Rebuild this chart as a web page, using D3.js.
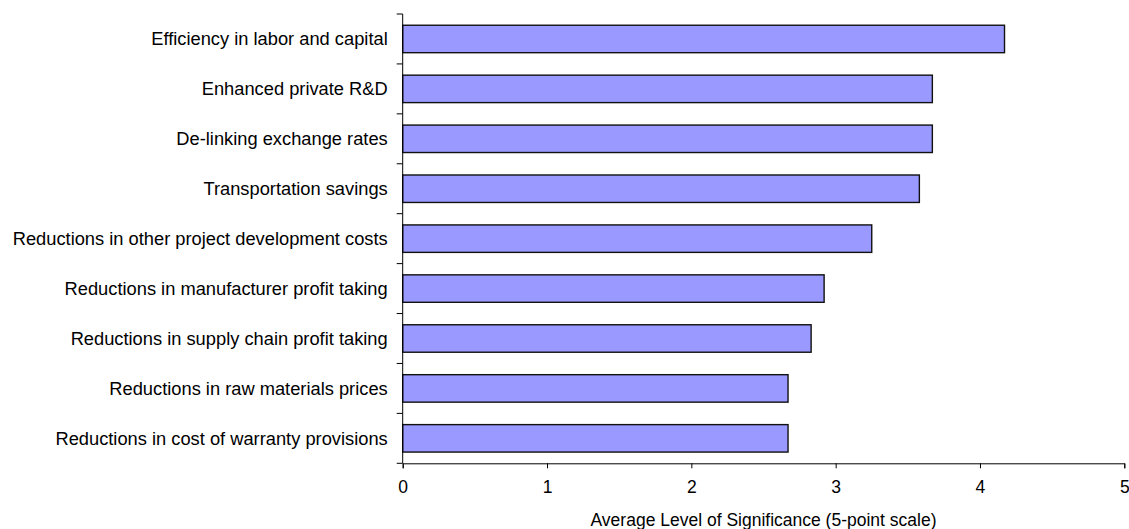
<!DOCTYPE html>
<html>
<head>
<meta charset="utf-8">
<script src="https://cdn.jsdelivr.net/npm/d3@7"></script>
<style>
  html, body { margin: 0; padding: 0; background: #fff; }
  svg { display: block; font-family: "Liberation Sans", Arial, sans-serif; }
</style>
</head>
<body>
<svg id="chart" width="1129" height="529"></svg>
<script>
// Factors ranked by average level of significance (top to bottom)
const categories = [
  "Efficiency in labor and capital",
  "Enhanced private R&D",
  "De-linking exchange rates",
  "Transportation savings",
  "Reductions in other project development costs",
  "Reductions in manufacturer profit taking",
  "Reductions in supply chain profit taking",
  "Reductions in raw materials prices",
  "Reductions in cost of warranty provisions"
];
const values = [4.17, 3.67, 3.67, 3.58, 3.25, 2.92, 2.83, 2.67, 2.67];
const xTicks = [0, 1, 2, 3, 4, 5];
const xTitle = "Average Level of Significance (5-point scale)";

const data = categories.map((c, i) => ({ category: c, value: values[i] }));

const svg = d3.select("#chart");
const margin = { top: 14, left: 402.7, right: 4.7, bottom: 65.7 };
const width = 1129 - margin.left - margin.right;
const height = 529 - margin.top - margin.bottom;

const g = svg.append("g").attr("transform", `translate(${margin.left},${margin.top})`);

const x = d3.scaleLinear().domain([0, 5]).range([0, width]);
const y = d3.scaleBand().domain(categories).range([0, height]).paddingInner(0.45).paddingOuter(0.225);

// Bars
g.selectAll("rect.bar")
  .data(data)
  .join("rect")
  .attr("class", "bar")
  .attr("x", x(0))
  .attr("y", d => y(d.category))
  .attr("width", d => x(d.value) - x(0))
  .attr("height", y.bandwidth())
  .attr("fill", "#9999ff")
  .attr("stroke", "#111")
  .attr("stroke-width", 1.4);

// Category axis: ticks sit between the bars
g.append("line")
  .attr("x1", 0).attr("x2", 0).attr("y1", 0).attr("y2", height)
  .attr("stroke", "#000").attr("stroke-width", 1);

const step = height / categories.length;
g.selectAll("line.ytick")
  .data(d3.range(categories.length + 1))
  .join("line")
  .attr("class", "ytick")
  .attr("x1", -6).attr("x2", 0)
  .attr("y1", i => i * step).attr("y2", i => i * step)
  .attr("stroke", "#000").attr("stroke-width", 1);

g.selectAll("text.ylabel")
  .data(categories)
  .join("text")
  .attr("class", "ylabel")
  .attr("x", -15)
  .attr("y", d => y(d) + y.bandwidth() / 2)
  .attr("dy", "0.35em")
  .attr("text-anchor", "end")
  .attr("font-size", "18.3px")
  .attr("fill", "#000")
  .text(d => d);

// Value axis
const xAxis = g.append("g")
  .attr("transform", `translate(0,${height})`)
  .call(d3.axisBottom(x).tickValues(xTicks).tickFormat(d3.format("d")).tickSize(5).tickPadding(12));
xAxis.select(".domain").attr("stroke", "#000");
xAxis.selectAll(".tick line").attr("stroke", "#000");
xAxis.selectAll(".tick text")
  .attr("font-size", "17.5px")
  .attr("font-family", "Liberation Sans, Arial, sans-serif")
  .attr("fill", "#000");

g.append("text")
  .attr("x", width / 2)
  .attr("y", height + 63)
  .attr("text-anchor", "middle")
  .attr("font-size", "17.5px")
  .attr("fill", "#000")
  .text(xTitle);
</script>
</body>
</html>
